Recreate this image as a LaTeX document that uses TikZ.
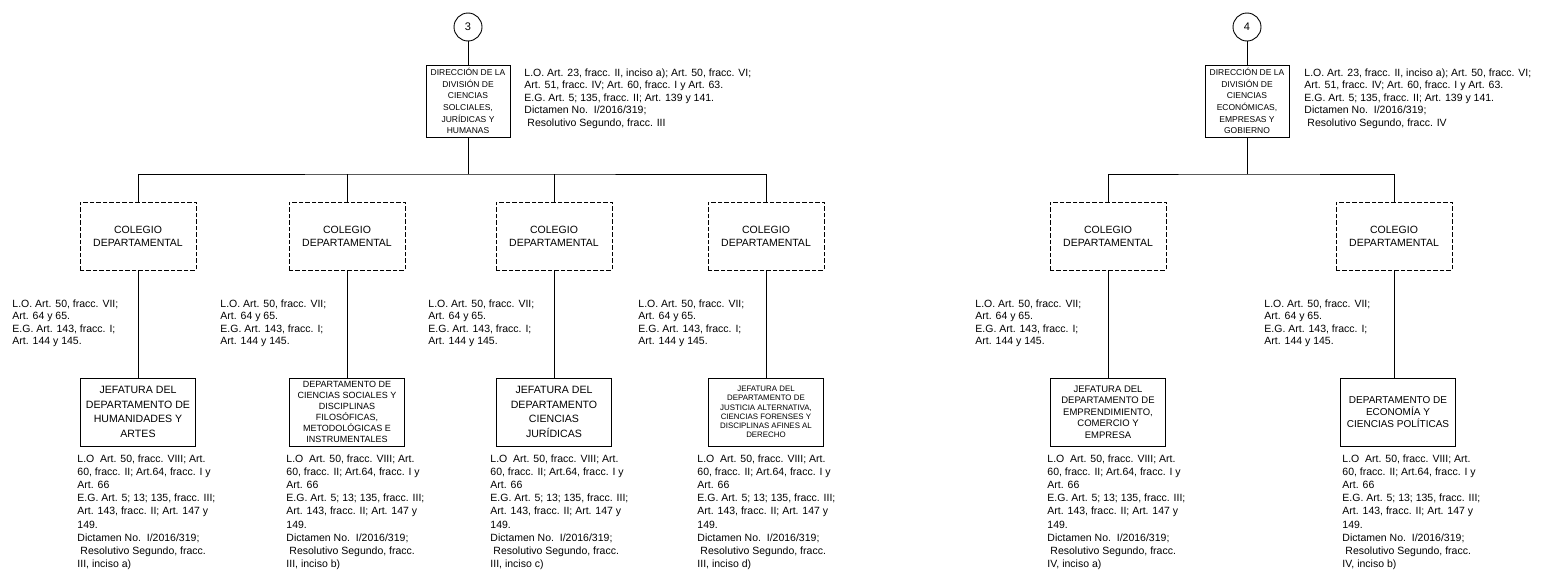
\documentclass[tikz,border=0pt]{standalone}
\usepackage{fontspec}
\setmainfont{Liberation Sans}
\usetikzlibrary{positioning}

% Texts that repeat under the boxes.
\newcommand{\dirnote}[1]{L.O. Art. 23, fracc. II, inciso a); Art. 50, fracc. VI;\\Art. 51, fracc. IV; Art. 60, fracc. I y Art. 63.\\E.G. Art. 5; 135, fracc. II; Art. 139 y 141.\\Dictamen No.\ \ I/2016/319;\\\hspace*{3pt}Resolutivo Segundo, fracc. #1}
\newcommand{\colnote}{L.O. Art. 50, fracc. VII;\\Art. 64 y 65.\\E.G. Art. 143, fracc. I;\\Art. 144 y 145.}
\newcommand{\jefnote}[1]{L.O\ \ Art. 50, fracc. VIII; Art.\\60, fracc. II; Art.64, fracc. I y\\Art. 66\\E.G. Art. 5; 13; 135, fracc. III;\\Art. 143, fracc. II; Art. 147 y\\149.\\Dictamen No.\ \ I/2016/319;\\\hspace*{3pt}Resolutivo Segundo, fracc.\\#1}

\begin{document}
\begin{tikzpicture}[%
        x = 1pt,
        y = -1pt,
        line width = 0.9pt,
        line cap = rect,
        numbox/.style = {draw, circle, minimum size = 28pt, inner sep = 0pt,
            font = \fontsize{11}{12}\selectfont},
        dirbox/.style = {draw, minimum width = 84pt, minimum height = 72pt,
            inner sep = 0pt, align = center, font = \fontsize{8.5}{11.6}\selectfont},
        colbox/.style = {draw, dash pattern = on 4pt off 2.5pt,
            minimum width = 116pt, minimum height = 68pt, inner sep = 0pt,
            align = center, font = \fontsize{10.5}{13}\selectfont},
        jefbox/.style = {draw, minimum width = 115pt, minimum height = 68pt,
            inner sep = 0pt, align = center, font = \fontsize{10.6}{14.5}\selectfont},
        note/.style = {anchor = north west, inner sep = 0pt, align = left,
            font = \fontsize{10.5}{12.5}\selectfont},
        lownote/.style = {note, font = \fontsize{10.5}{13.2}\selectfont}
    ]

        \useasboundingbox (0, 0) rectangle (1564, 573);

        % First division: circle, head box and its four colleges.
        \node[numbox] (n3) at (468, 27) {3};
        \node[dirbox] (dir3) at (468, 101) {DIRECCIÓN DE LA\\DIVISIÓN DE\\CIENCIAS\\SOLCIALES,\\JURÍDICAS Y\\HUMANAS};
        \node[note] (dir3note) at (524, 68) {\dirnote{III}};
        \coordinate (bus3) at (468, 174);

        \node[colbox] (col1) at (138, 236) {COLEGIO\\DEPARTAMENTAL};
        \node[colbox] (col2) at (347, 236) {COLEGIO\\DEPARTAMENTAL};
        \node[colbox] (col3) at (554, 236) {COLEGIO\\DEPARTAMENTAL};
        \node[colbox] (col4) at (766, 236) {COLEGIO\\DEPARTAMENTAL};

        \node[note] (col1note) at (12, 299) {\colnote};
        \node[note] (col2note) at (220, 299) {\colnote};
        \node[note] (col3note) at (428, 299) {\colnote};
        \node[note] (col4note) at (638, 299) {\colnote};

        \node[jefbox] (jef1) at (138, 412) {JEFATURA DEL\\DEPARTAMENTO DE\\HUMANIDADES Y\\ARTES};
        \node[jefbox, font = \fontsize{9}{11}\selectfont] (jef2) at (347, 412) {DEPARTAMENTO DE\\CIENCIAS SOCIALES Y\\DISCIPLINAS\\FILOSÓFICAS,\\METODOLÓGICAS E\\INSTRUMENTALES};
        \node[jefbox] (jef3) at (554, 412) {JEFATURA DEL\\DEPARTAMENTO\\CIENCIAS\\JURÍDICAS};
        \node[jefbox, font = \fontsize{7.9}{9.3}\selectfont] (jef4) at (766, 412) {JEFATURA DEL\\DEPARTAMENTO DE\\JUSTICIA ALTERNATIVA,\\CIENCIAS FORENSES Y\\DISCIPLINAS AFINES AL\\DERECHO};

        \node[lownote] (jef1note) at (77, 454) {\jefnote{III, inciso a)}};
        \node[lownote] (jef2note) at (286, 454) {\jefnote{III, inciso b)}};
        \node[lownote] (jef3note) at (490, 454) {\jefnote{III, inciso c)}};
        \node[lownote] (jef4note) at (697, 454) {\jefnote{III, inciso d)}};

        % Second division: circle, head box and its two colleges.
        \node[numbox] (n4) at (1247, 27) {4};
        \node[dirbox] (dir4) at (1247, 101) {DIRECCIÓN DE LA\\DIVISIÓN DE\\CIENCIAS\\ECONÓMICAS,\\EMPRESAS Y\\GOBIERNO};
        \node[note] (dir4note) at (1304, 68) {\dirnote{IV}};
        \coordinate (bus4) at (1247, 174);

        \node[colbox] (col5) at (1108, 236) {COLEGIO\\DEPARTAMENTAL};
        \node[colbox] (col6) at (1394, 236) {COLEGIO\\DEPARTAMENTAL};

        \node[note] (col5note) at (975, 299) {\colnote};
        \node[note] (col6note) at (1264, 299) {\colnote};

        \node[jefbox, font = \fontsize{9.5}{11.6}\selectfont] (jef5) at (1108, 412) {JEFATURA DEL\\DEPARTAMENTO DE\\EMPRENDIMIENTO,\\COMERCIO Y\\EMPRESA};
        \node[jefbox, font = \fontsize{10}{12}\selectfont] (jef6) at (1398, 412) {DEPARTAMENTO DE\\ECONOMÍA Y\\CIENCIAS POLÍTICAS};

        \node[lownote] (jef5note) at (1047, 454) {\jefnote{IV, inciso a)}};
        \node[lownote] (jef6note) at (1342, 454) {\jefnote{IV, inciso b)}};

        % Connectors of the first division.
        \draw (n3) -- (dir3);
        \draw (dir3) -- (bus3);
        \draw (col1.north) |- (bus3) -| (col4.north);
        \draw (col2.north) -- (col2.north |- bus3);
        \draw (col3.north) -- (col3.north |- bus3);
        \draw (col1) -- (jef1);
        \draw (col2) -- (jef2);
        \draw (col3) -- (jef3);
        \draw (col4) -- (jef4);

        % Connectors of the second division.
        \draw (n4) -- (dir4);
        \draw (dir4) -- (bus4);
        \draw (col5.north) |- (bus4) -| (col6.north);
        \draw (col5) -- (jef5);
        \draw (col6.south) -- (col6.south |- jef6.north);
    \end{tikzpicture}
\end{document}
